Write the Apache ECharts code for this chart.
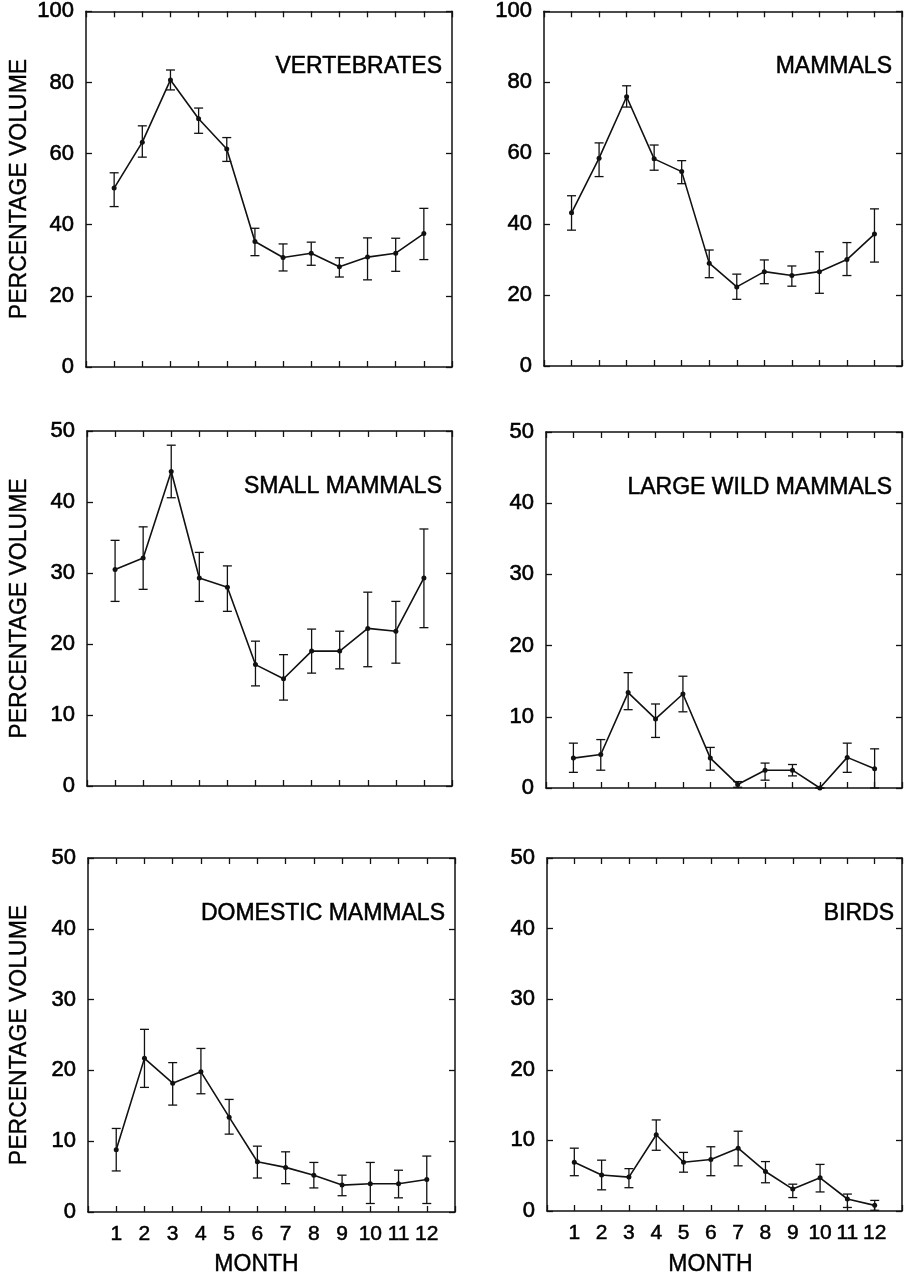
<!DOCTYPE html>
<html>
<head>
<meta charset="utf-8">
<script src="https://cdn.jsdelivr.net/npm/echarts@6/dist/echarts.min.js"></script>
<style>
html,body{margin:0;padding:0;background:#fff;}
#chart{width:905px;height:1281px;}
</style>
</head>
<body>
<div id="chart"></div>
<script>
// ---- Data ----
const months = [1, 2, 3, 4, 5, 6, 7, 8, 9, 10, 11, 12];
const monthTickLabels = ['1','2','3','4','5','6','7','8','9','10','11','12'];
const panelTitles = ['VERTEBRATES', 'MAMMALS', 'SMALL MAMMALS', 'LARGE WILD MAMMALS', 'DOMESTIC MAMMALS', 'BIRDS'];
const yAxisTitle = 'PERCENTAGE VOLUME';
const xAxisTitle = 'MONTH';

const vertebrates     = [50.3, 63.2, 80.7, 69.8, 61.3, 35.3, 30.8, 32.0, 28.2, 30.9, 32.0, 37.5];
const vertebratesHigh = [54.6, 67.8, 83.5, 72.8, 64.5, 39.0, 34.6, 35.1, 30.7, 36.3, 36.2, 44.6];
const vertebratesLow  = [45.1, 59.0, 77.9, 65.7, 57.8, 31.3, 27.0, 28.6, 25.3, 24.5, 26.9, 30.2];

const mammals     = [43.2, 58.6, 75.9, 58.4, 54.8, 29.0, 22.3, 26.6, 25.5, 26.6, 30.0, 37.2];
const mammalsHigh = [48.0, 62.9, 79.0, 62.3, 57.9, 32.7, 25.9, 29.9, 28.2, 32.2, 34.8, 44.3];
const mammalsLow  = [38.3, 53.4, 73.0, 55.2, 51.4, 24.9, 18.8, 23.2, 22.5, 20.5, 25.5, 29.3];

const smallMammals     = [30.5, 32.1, 44.3, 29.3, 28.0, 17.1, 15.1, 19.0, 19.0, 22.2, 21.8, 29.3];
const smallMammalsHigh = [34.6, 36.5, 48.0, 32.9, 31.0, 20.4, 18.5, 22.1, 21.8, 27.3, 26.0, 36.2];
const smallMammalsLow  = [26.0, 27.7, 40.6, 26.0, 24.6, 14.1, 12.1, 15.9, 16.5, 16.8, 17.3, 22.3];

const largeWild     = [4.2, 4.7, 13.4, 9.7, 13.2, 4.2, 0.5, 2.5, 2.5, 0.0, 4.3, 2.7];
const largeWildHigh = [6.3, 6.8, 16.2, 11.8, 15.7, 5.7, 0.9, 3.5, 3.3, 0.0, 6.3, 5.5];
const largeWildLow  = [2.2, 2.5, 11.0, 7.1, 10.7, 2.5, 0.1, 1.1, 1.7, 0.0, 2.2, 0.0];

const domestic     = [8.8, 21.7, 18.2, 19.8, 13.4, 7.1, 6.3, 5.2, 3.8, 4.0, 4.0, 4.6];
const domesticHigh = [11.8, 25.8, 21.1, 23.1, 15.9, 9.3, 8.5, 7.0, 5.2, 7.0, 5.9, 7.9];
const domesticLow  = [5.8, 17.6, 15.1, 16.7, 11.0, 4.8, 4.0, 3.4, 2.3, 1.2, 2.0, 1.2];

const birds     = [6.9, 5.1, 4.8, 10.8, 6.9, 7.3, 8.9, 5.6, 3.1, 4.7, 1.7, 0.8];
const birdsHigh = [8.9, 7.2, 6.0, 12.9, 8.3, 9.1, 11.3, 7.0, 3.8, 6.6, 2.4, 1.5];
const birdsLow  = [5.0, 3.0, 3.3, 8.6, 5.5, 5.0, 6.4, 4.0, 1.9, 2.7, 0.5, 0.1];

const yMax = [100, 100, 50, 50, 50, 50];
const yStep = [20, 20, 10, 10, 10, 10];

// ---- Layout ----
const FONT = '"Liberation Sans", Arial, Helvetica, sans-serif';
const INK = '#111';
const TXT = '#000';
const grids = [
  {left: 86,  top: 11,  width: 366, height: 356},
  {left: 544, top: 11,  width: 358, height: 355},
  {left: 87,  top: 431, width: 365, height: 355},
  {left: 546, top: 432, width: 356, height: 356},
  {left: 88,  top: 858, width: 367, height: 354},
  {left: 547, top: 858, width: 357, height: 353}
];
const means = [vertebrates, mammals, smallMammals, largeWild, domestic, birds];
const highs = [vertebratesHigh, mammalsHigh, smallMammalsHigh, largeWildHigh, domesticHigh, birdsHigh];
const lows  = [vertebratesLow, mammalsLow, smallMammalsLow, largeWildLow, domesticLow, birdsLow];

const xAxes = [], yAxes = [], series = [], graphics = [];

function errorRender(params, api) {
  const x = api.value(0), lo = api.value(1), hi = api.value(2);
  const a = api.coord([x, lo]), b = api.coord([x, hi]);
  const hw = 4.5;
  const st = {stroke: INK, lineWidth: 1.3};
  return {type: 'group', children: [
    {type: 'line', shape: {x1: a[0], y1: a[1], x2: b[0], y2: b[1]}, style: st},
    {type: 'line', shape: {x1: a[0]-hw, y1: a[1], x2: a[0]+hw, y2: a[1]}, style: st},
    {type: 'line', shape: {x1: b[0]-hw, y1: b[1], x2: b[0]+hw, y2: b[1]}, style: st}
  ]};
}

grids.forEach((g, i) => {
  const bottomRow = i >= 4;
  const axisLine = {show: true, onZero: false, lineStyle: {color: INK, width: 1.5}};
  const tick = {show: true, inside: true, length: 6, lineStyle: {color: INK, width: 1.3}};
  // bottom x axis
  xAxes.push({
    type: 'value', gridIndex: i, position: 'bottom', min: 0, max: 13, interval: 1,
    axisLine, axisTick: tick, splitLine: {show: false},
    axisLabel: {
      show: bottomRow, margin: 12, color: TXT, fontFamily: FONT, fontSize: 21,
      textBorderColor: TXT, textBorderWidth: 0.5,
      formatter: v => (v >= 1 && v <= 12) ? monthTickLabels[v - 1] : ''
    }
  });
  // top x axis
  xAxes.push({
    type: 'value', gridIndex: i, position: 'top', min: 0, max: 13, interval: 1,
    axisLine, axisTick: tick, splitLine: {show: false}, axisLabel: {show: false}
  });
  // left y axis
  yAxes.push({
    type: 'value', gridIndex: i, position: 'left', min: 0, max: yMax[i], interval: yStep[i],
    axisLine, axisTick: tick, splitLine: {show: false},
    axisLabel: {margin: 12, color: TXT, fontFamily: FONT, fontSize: 22,
      textBorderColor: TXT, textBorderWidth: 0.6}
  });
  // right y axis
  yAxes.push({
    type: 'value', gridIndex: i, position: 'right', min: 0, max: yMax[i], interval: yStep[i],
    axisLine, axisTick: tick, splitLine: {show: false}, axisLabel: {show: false}
  });

  series.push({
    type: 'custom', xAxisIndex: i * 2, yAxisIndex: i * 2, renderItem: errorRender,
    encode: {x: 0, y: [1, 2]}, z: 2, silent: true,
    data: months.map((m, k) => [m, lows[i][k], highs[i][k]])
  });
  series.push({
    type: 'line', xAxisIndex: i * 2, yAxisIndex: i * 2, z: 3, silent: true,
    symbol: 'circle', symbolSize: 5, showSymbol: true,
    itemStyle: {color: INK}, lineStyle: {color: INK, width: 1.6},
    data: months.map((m, k) => [m, means[i][k]])
  });

  // panel title
  graphics.push({
    type: 'text', x: g.left + g.width - 10, y: g.top + 56, z: 10,
    style: {text: panelTitles[i], font: '23px ' + FONT, fill: TXT, stroke: TXT, lineWidth: 0.5,
      textAlign: 'right', textVerticalAlign: 'middle'}
  });
  // y axis title on left column
  if (i % 2 === 0) {
    graphics.push({
      type: 'text', x: 20, y: g.top + g.height / 2, rotation: Math.PI / 2, z: 10,
      style: {text: yAxisTitle, font: '23px ' + FONT, fill: TXT, stroke: TXT, lineWidth: 0.4,
        textAlign: 'center', textVerticalAlign: 'middle'}
    });
  }
  if (bottomRow) {
    graphics.push({
      type: 'text', x: g.left + g.width / 2 - 15, y: 1265, z: 10,
      style: {text: xAxisTitle, font: '23px ' + FONT, fill: TXT, stroke: TXT, lineWidth: 0.4,
        textAlign: 'center', textVerticalAlign: 'middle'}
    });
  }
});

const chart = echarts.init(document.getElementById('chart'), null, {renderer: 'canvas'});
chart.setOption({
  backgroundColor: '#fff',
  animation: false,
  grid: grids.map(g => Object.assign({containLabel: false}, g)),
  xAxis: xAxes,
  yAxis: yAxes,
  series: series,
  graphic: graphics
});
</script>
</body>
</html>
